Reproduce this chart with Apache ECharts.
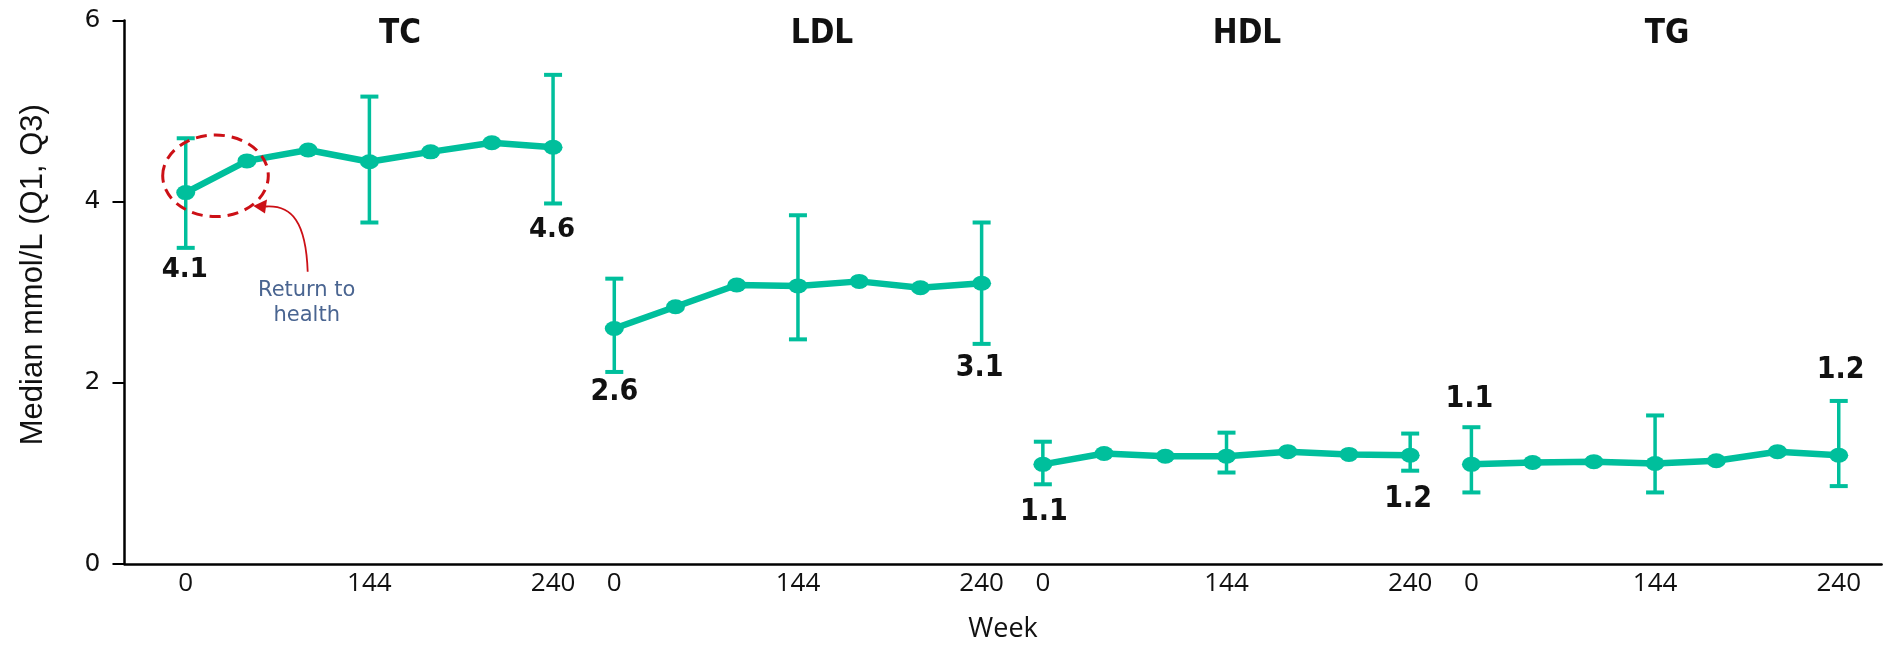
<!DOCTYPE html>
<html>
<head>
<meta charset="utf-8">
<title>Lipid profile over time</title>
<script src="https://cdn.jsdelivr.net/npm/echarts@6/dist/echarts.min.js"></script>
<style>
  html, body { margin: 0; padding: 0; background: #ffffff; }
  #chart { width: 1897px; height: 648px; }
</style>
</head>
<body>
<div id="chart"></div>
<script>
// Lipid panels, each measured at seven visits; tick labels only on the first, middle and last visit
const panels = ['TC', 'LDL', 'HDL', 'TG'];
const visitTicks = ['0', '', '', '144', '', '', '240'];

// Median (mmol/L) per visit, with Q1/Q3 at the visits that carry a whisker
const tcMedian  = [4.1, 4.45, 4.57, 4.44, 4.55, 4.65, 4.6];
const tcQ1      = [3.49, null, null, 3.77, null, null, 3.98];
const tcQ3      = [4.70, null, null, 5.16, null, null, 5.40];

const ldlMedian = [2.6, 2.84, 3.08, 3.07, 3.12, 3.05, 3.1];
const ldlQ1     = [2.12, null, null, 2.48, null, null, 2.43];
const ldlQ3     = [3.15, null, null, 3.85, null, null, 3.77];

const hdlMedian = [1.1, 1.22, 1.19, 1.19, 1.24, 1.21, 1.2];
const hdlQ1     = [0.88, null, null, 1.01, null, null, 1.03];
const hdlQ3     = [1.35, null, null, 1.45, null, null, 1.44];

const tgMedian  = [1.1, 1.12, 1.13, 1.11, 1.14, 1.24, 1.2];
const tgQ1      = [0.79, null, null, 0.79, null, null, 0.86];
const tgQ3      = [1.51, null, null, 1.64, null, null, 1.80];

const yTicks = [0, 2, 4, 6];

// ---- presentation settings ----
const TEAL = '#00bf9c';
const SLOTS = visitTicks.length;          // visits per panel on the shared x scale
const medians = [tcMedian, ldlMedian, hdlMedian, tgMedian];
const q1s = [tcQ1, ldlQ1, hdlQ1, tgQ1];
const q3s = [tcQ3, ldlQ3, hdlQ3, tgQ3];
// pixel offsets of the first / last value labels from their points
const endLabelOffsets = [
  [[-1, 78], [-1, 83]],
  [[0, 64], [-2, 85]],
  [[1, 48], [-2, 44]],
  [[-2, -65], [2, -85]]
];
const endLabelFonts = [
  { fontFamily: 'DejaVu Sans', fontSize: 26 },
  { fontFamily: 'DejaVu Sans Condensed', fontSize: 30 },
  { fontFamily: 'DejaVu Sans Condensed', fontSize: 30 },
  { fontFamily: 'DejaVu Sans Condensed', fontSize: 30 }
];
const titleCenters = [400, 822, 1247, 1667];

const lineSeries = panels.map((name, p) => ({
  name: name,
  type: 'line',
  z: 3,
  symbol: 'circle',
  symbolSize: [19, 15],
  lineStyle: { color: TEAL, width: 6.5 },
  itemStyle: { color: TEAL },
  emphasis: { disabled: true },
  data: medians[p].map((v, i) => {
    const item = { value: [p * SLOTS + i, v] };
    if (i === 0 || i === SLOTS - 1) {
      const off = endLabelOffsets[p][i === 0 ? 0 : 1];
      item.label = {
        show: true,
        position: 'inside',
        offset: off,
        formatter: (d) => d.value[1].toFixed(1),
        color: '#111111',
        fontWeight: 'bold',
        fontFamily: endLabelFonts[p].fontFamily,
        fontSize: endLabelFonts[p].fontSize
      };
    }
    return item;
  })
}));

const whiskerData = [];
panels.forEach((name, p) => {
  q1s[p].forEach((lo, i) => {
    if (lo !== null && q3s[p][i] !== null) whiskerData.push([p * SLOTS + i, lo, q3s[p][i]]);
  });
});

function renderWhisker(params, api) {
  const x = api.value(0);
  const lo = api.coord([x, api.value(1)]);
  const hi = api.coord([x, api.value(2)]);
  const half = 9;
  return {
    type: 'group',
    children: [
      { type: 'line', shape: { x1: lo[0], y1: lo[1], x2: hi[0], y2: hi[1] }, style: { stroke: TEAL, lineWidth: 3.5 } },
      { type: 'line', shape: { x1: lo[0] - half, y1: lo[1], x2: lo[0] + half, y2: lo[1] }, style: { stroke: TEAL, lineWidth: 4 } },
      { type: 'line', shape: { x1: hi[0] - half, y1: hi[1], x2: hi[0] + half, y2: hi[1] }, style: { stroke: TEAL, lineWidth: 4 } }
    ]
  };
}

const graphics = panels.map((name, p) => ({
  type: 'text',
  x: titleCenters[p],
  y: 34,
  style: {
    text: name,
    fill: '#111111',
    font: 'bold 33px "DejaVu Sans Condensed"',
    textAlign: 'center', align: 'center',
    textVerticalAlign: 'middle', verticalAlign: 'middle'
  }
}));

// callout around the first TC change
graphics.push(
  {
    type: 'ellipse',
    shape: { cx: 215.5, cy: 175.8, rx: 52.8, ry: 40.8 },
    style: { fill: 'none', stroke: '#cc1016', lineWidth: 3, lineDash: [11, 7] },
    z: 10
  },
  {
    type: 'bezierCurve',
    shape: { x1: 307.7, y1: 271.7, cpx1: 306, cpy1: 222, cpx2: 292, cpy2: 205, x2: 266, y2: 206.5 },
    style: { fill: 'none', stroke: '#cc1016', lineWidth: 1.8 },
    z: 10
  },
  {
    type: 'polygon',
    shape: { points: [[253.3, 206], [267, 199.5], [265, 213.5]] },
    style: { fill: '#cc1016' },
    z: 10
  },
  {
    type: 'text',
    x: 306.7,
    y: 278.5,
    style: {
      text: 'Return to\nhealth',
      fill: '#4a6591',
      font: '21px "DejaVu Sans"',
      lineHeight: 24.5,
      textAlign: 'center', align: 'center',
      textVerticalAlign: 'top', verticalAlign: 'top'
    },
    z: 10
  }
);

const chart = echarts.init(document.getElementById('chart'), null, { renderer: 'canvas' });
chart.setOption({
  animation: false,
  backgroundColor: '#ffffff',
  grid: { left: 124.5, right: 15.4, top: 20.5, bottom: 79.5, containLabel: false },
  xAxis: {
    type: 'value',
    min: -1,
    max: 27.7,
    interval: 1,
    name: 'Week',
    nameLocation: 'middle',
    nameGap: 52,
    nameTextStyle: { color: '#111111', fontFamily: 'Open Sans', fontSize: 27 },
    axisLine: { show: true, onZero: false, lineStyle: { color: '#000000', width: 2.5 } },
    axisTick: { show: false },
    splitLine: { show: false },
    axisLabel: {
      color: '#111111',
      fontFamily: 'Open Sans',
      fontSize: 26,
      margin: 7,
      showMinLabel: true,
      showMaxLabel: true,
      formatter: (v) => {
        if (v < 0 || Math.abs(v - Math.round(v)) > 1e-6) return '';
        const r = Math.round(v);
        const p = Math.floor(r / SLOTS);
        if (p >= panels.length) return '';
        return visitTicks[r - p * SLOTS];
      }
    }
  },
  yAxis: {
    type: 'value',
    min: yTicks[0],
    max: yTicks[yTicks.length - 1],
    interval: yTicks[1] - yTicks[0],
    name: 'Median mmol/L (Q1, Q3)',
    nameLocation: 'middle',
    nameRotate: 90,
    nameGap: 76,
    nameTextStyle: {
      color: '#111111',
      fontFamily: '"Liberation Sans", Arial, sans-serif',
      fontSize: 31,
      padding: [0, 0, 0, 35]
    },
    axisLine: { show: true, onZero: false, lineStyle: { color: '#000000', width: 2.5 } },
    axisTick: { show: true, inside: false, length: 12, lineStyle: { color: '#000000', width: 2 } },
    splitLine: { show: false },
    axisLabel: {
      color: '#111111',
      fontFamily: '"DejaVu Sans", sans-serif',
      fontSize: 25,
      margin: 24
    }
  },
  series: [
    {
      name: 'Q1–Q3',
      type: 'custom',
      z: 2,
      renderItem: renderWhisker,
      encode: { x: 0, y: [1, 2] },
      data: whiskerData,
      silent: true
    }
  ].concat(lineSeries),
  graphic: graphics
});
</script>
</body>
</html>
